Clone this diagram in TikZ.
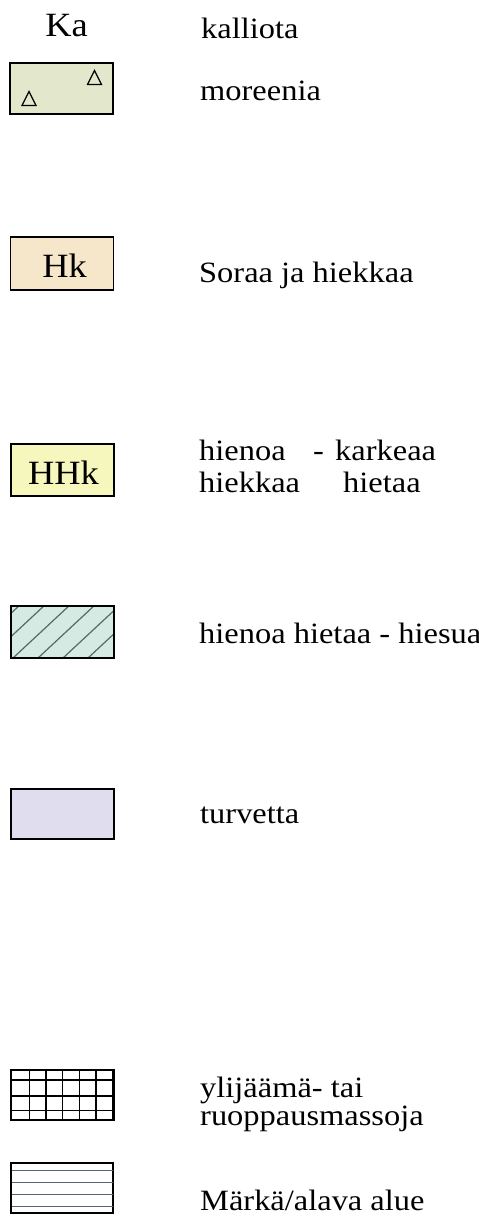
\documentclass[tikz,border=0pt]{standalone}
\usepackage{fontspec}
\setmainfont{Liberation Serif}
\definecolor{moreC}{HTML}{E3E8CD}
\definecolor{hkC}{HTML}{F6E7CA}
\definecolor{hhkC}{HTML}{F5F7BC}
\definecolor{hietC}{HTML}{D5EAE2}
\definecolor{hatchC}{HTML}{4E6E62}
\definecolor{turvC}{HTML}{DFDDEE}
\definecolor{wetC}{HTML}{5A6478}
\newcommand\txt[1]{\scalebox{1.1}[1]{#1}}
\newcommand\lbl[1]{\scalebox{1.07}[1]{#1}}
\begin{document}
\begin{tikzpicture}[x=1pt,y=-1pt,
  legbox/.style={draw=black,line width=1.3pt,minimum width=103pt,minimum height=51pt,inner sep=0pt,outer sep=0pt},
  desc/.style={anchor=base west,inner sep=0pt,font=\fontsize{29.5}{32}\selectfont},
  code/.style={anchor=base,inner sep=0pt,font=\fontsize{34}{36}\selectfont},
  tri/.style={draw=black,line width=1.2pt,fill=none},
  rim/.style={draw=black,line width=1.3pt}]
\useasboundingbox (0,0) rectangle (479,1216);

% Ka / kalliota
\node[code] (ka) at (66.5,36) {\lbl{Ka}};
\node[desc] (t1) at (201,38) {\txt{kalliota}};

% moreenia
\node[legbox,fill=moreC] (b1) at (61.5,88.5) {};
\draw[tri] (87.5,84.5) -- (101.5,84.5) -- (94.5,70.5) -- cycle;
\draw[tri] (22,105.5) -- (36,105.5) -- (29,91.5) -- cycle;
\node[desc] (t2) at (200,100) {\txt{moreenia}};

% Hk
\node[legbox,fill=hkC,minimum height=53pt] (b2) at (62,263.5) {};
\node[code] (hk) at (64.5,277) {\lbl{Hk}};
\node[desc] (t3) at (199,282) {\txt{Soraa ja hiekkaa}};

% HHk
\node[legbox,fill=hhkC,minimum height=52pt] (b3) at (62.5,470) {};
\node[code] (hhk) at (63.5,484) {\lbl{HHk}};
\node[desc] (t4a) at (199,460) {\txt{hienoa}};
\node[desc] (t4b) at (313,460) {\txt{-}};
\node[desc] (t4c) at (335,460) {\txt{karkeaa}};
\node[desc] (t4d) at (199,492) {\txt{hiekkaa}};
\node[desc] (t4e) at (343,492) {\txt{hietaa}};

% hienoa hietaa - hiesua (hatched)
\node[legbox,fill=hietC,minimum height=52pt] (b4) at (62.5,632) {};
\begin{scope}
  \clip (b4.south west) rectangle (b4.north east);
  \foreach \o in {-37,-12,13,38,63,88}{
    \draw[hatchC,line width=1.2pt] (\o,658) -- ++(58,-54);
  }
\end{scope}
\draw[rim] (b4.south west) rectangle (b4.north east);
\node[desc] (t5) at (199,643) {\txt{hienoa hietaa - hiesua}};

% turvetta
\node[legbox,fill=turvC,minimum height=50pt] (b5) at (62.5,814) {};
\node[desc] (t6) at (200,823) {\txt{turvetta}};

% grid
\node[legbox,line width=1.2pt,minimum height=50pt] (b6) at (62.5,1095) {};
\foreach \xx in {29.3,46,62.7,79.3,96}{
  \draw[black,line width=1.2pt] (\xx,1070) -- (\xx,1120);
}
\foreach \yy in {1080,1096,1110.7}{
  \draw[black,line width=1.2pt] (11,\yy) -- (114,\yy);
}
\draw[black,line width=2.4pt] ([xshift=-0.8pt]b6.north east) -- ([xshift=-0.8pt]b6.south east);
\node[desc] (t7a) at (200,1097) {\txt{ylijäämä- tai}};
\node[desc] (t7b) at (200,1125) {\txt{ruoppausmassoja}};

% wet area
\node[legbox,line width=1.1pt,minimum width=102pt,minimum height=50pt] (b7) at (62,1188) {};
\foreach \yy in {1170.7,1182.7,1194.3,1206.7}{
  \draw[wetC,line width=1.5pt] (11.5,\yy) -- (112.5,\yy);
}
\node[desc] (t8) at (200,1210) {\txt{Märkä/alava alue}};
\end{tikzpicture}
\end{document}
